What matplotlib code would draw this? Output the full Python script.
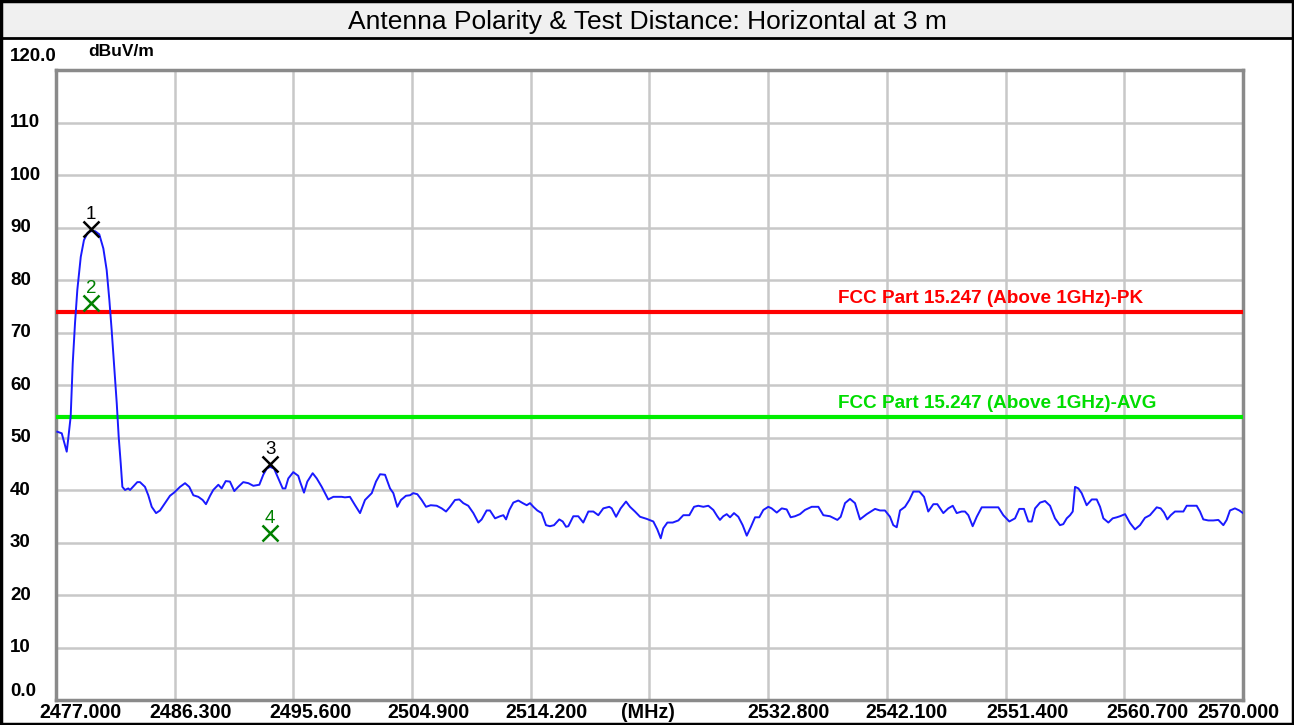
import matplotlib
matplotlib.use("Agg")
import matplotlib.pyplot as plt
from matplotlib.patches import Rectangle
from matplotlib.lines import Line2D
import matplotlib.transforms as mtransforms

# ---------------- data ----------------
title = "Antenna Polarity & Test Distance: Horizontal at 3 m"
y_unit = "dBuV/m"
x_ticks = [2477.0, 2486.3, 2495.6, 2504.9, 2514.2, 2523.5, 2532.8, 2542.1, 2551.4, 2560.7, 2570.0]
x_tick_labels = ["2477.000", "2486.300", "2495.600", "2504.900", "2514.200", "(MHz)",
                 "2532.800", "2542.100", "2551.400", "2560.700", "2570.000"]
y_ticks = [0, 10, 20, 30, 40, 50, 60, 70, 80, 90, 100, 110, 120]
y_tick_labels = ["0.0", "10", "20", "30", "40", "50", "60", "70", "80", "90", "100", "110", "120.0"]

limit_pk = 74.0
limit_avg = 54.0
limit_pk_label = "FCC Part 15.247 (Above 1GHz)-PK"
limit_avg_label = "FCC Part 15.247 (Above 1GHz)-AVG"

trace_freq = [
    2477.10, 2477.45, 2477.84, 2477.96, 2478.15, 2478.31, 2478.49, 2478.67, 2478.94, 2479.19,
    2479.48, 2479.72, 2480.06, 2480.39, 2480.71, 2480.97, 2481.18, 2481.36, 2481.54, 2481.76,
    2481.91, 2482.07, 2482.20, 2482.41, 2482.66, 2482.80, 2483.37, 2483.58, 2483.97, 2484.23,
    2484.50, 2484.84, 2485.15, 2485.54, 2485.93, 2486.25, 2486.72, 2487.11, 2487.44, 2487.76,
    2488.15, 2488.49, 2488.75, 2489.07, 2489.32, 2489.72, 2489.98, 2490.30, 2490.63, 2490.97,
    2491.28, 2491.67, 2492.07, 2492.46, 2492.93, 2493.24, 2493.51, 2493.77, 2494.08, 2494.42,
    2494.76, 2494.97, 2495.20, 2495.59, 2495.98, 2496.12, 2496.43, 2496.69, 2497.11, 2497.43,
    2497.82, 2498.33, 2498.73, 2499.38, 2499.64, 2500.03, 2500.43, 2500.82, 2501.21, 2501.74,
    2502.07, 2502.39, 2502.78, 2503.17, 2503.43, 2503.74, 2504.03, 2504.42, 2504.74, 2504.99,
    2505.31, 2505.65, 2505.99, 2506.36, 2506.83, 2507.22, 2507.56, 2507.87, 2508.26, 2508.60,
    2508.91, 2509.30, 2509.70, 2510.09, 2510.35, 2510.74, 2511.00, 2511.40, 2511.79, 2512.05,
    2512.26, 2512.52, 2512.83, 2513.22, 2513.57, 2513.88, 2514.14, 2514.40, 2514.71, 2515.05,
    2515.39, 2515.70, 2516.02, 2516.43, 2516.70, 2516.96, 2517.14, 2517.53, 2517.92, 2518.31,
    2518.71, 2519.10, 2519.49, 2519.88, 2520.35, 2520.54, 2520.88, 2521.24, 2521.66, 2521.97,
    2522.36, 2522.76, 2523.28, 2523.80, 2524.11, 2524.38, 2524.58, 2524.90, 2525.32, 2525.76,
    2526.15, 2526.62, 2526.99, 2527.32, 2527.72, 2528.11, 2528.50, 2528.81, 2529.02, 2529.28,
    2529.55, 2529.81, 2530.12, 2530.46, 2530.80, 2531.12, 2531.43, 2531.77, 2532.10, 2532.42,
    2532.81, 2533.07, 2533.47, 2533.86, 2534.25, 2534.56, 2534.90, 2535.29, 2535.68, 2536.21,
    2536.73, 2537.12, 2537.64, 2538.22, 2538.48, 2538.82, 2539.21, 2539.60, 2539.99, 2540.52,
    2541.17, 2541.56, 2541.95, 2542.34, 2542.60, 2542.87, 2543.13, 2543.52, 2543.86, 2544.17,
    2544.64, 2545.01, 2545.34, 2545.74, 2546.05, 2546.52, 2546.91, 2547.26, 2547.57, 2547.96,
    2548.22, 2548.48, 2548.82, 2549.14, 2549.53, 2550.05, 2550.83, 2551.22, 2551.69, 2552.14,
    2552.47, 2552.84, 2553.18, 2553.45, 2553.71, 2554.10, 2554.49, 2554.88, 2555.27, 2555.66,
    2555.92, 2556.19, 2556.45, 2556.66, 2556.84, 2557.10, 2557.36, 2557.75, 2558.15, 2558.54,
    2558.80, 2559.06, 2559.45, 2559.79, 2560.11, 2560.36, 2560.76, 2561.15, 2561.54, 2561.93,
    2562.32, 2562.71, 2563.24, 2563.55, 2563.81, 2564.07, 2564.34, 2564.67, 2565.33, 2565.59,
    2566.37, 2566.63, 2566.89, 2567.28, 2567.67, 2568.07, 2568.46, 2568.72, 2568.98, 2569.37,
    2569.71, 2570.00,
]
trace_level = [
    51.1, 50.8, 47.3, 49.8, 54.0, 64.1, 71.8, 78.1, 84.4, 87.6,
    89.0, 89.3, 89.3, 88.7, 86.0, 81.9, 76.2, 70.5, 64.1, 56.5,
    50.2, 45.1, 40.6, 40.0, 40.3, 40.0, 41.5, 41.5, 40.6, 39.0,
    36.8, 35.6, 36.1, 37.5, 38.9, 39.5, 40.6, 41.3, 40.6, 39.0,
    38.7, 38.1, 37.3, 38.9, 40.0, 41.0, 40.3, 41.7, 41.6, 39.8,
    40.6, 41.5, 41.3, 40.8, 41.0, 42.9, 44.1, 44.4, 44.1, 42.2,
    40.3, 40.3, 42.2, 43.4, 42.7, 41.6, 39.5, 41.6, 43.2, 42.2,
    40.6, 38.2, 38.7, 38.7, 38.6, 38.7, 37.1, 35.6, 38.1, 39.4,
    41.6, 43.0, 42.9, 40.3, 39.4, 36.8, 38.1, 38.9, 39.0, 39.4,
    39.2, 38.1, 36.8, 37.1, 37.0, 36.5, 35.9, 36.8, 38.1, 38.2,
    37.5, 37.0, 35.6, 33.8, 34.4, 36.1, 36.1, 34.6, 35.0, 35.2,
    34.4, 36.2, 37.6, 38.0, 37.5, 37.1, 37.5, 36.8, 36.1, 35.6,
    33.3, 33.1, 33.3, 34.4, 34.0, 33.0, 33.1, 35.0, 35.0, 33.8,
    35.9, 35.9, 35.2, 36.5, 36.8, 36.5, 34.9, 36.5, 37.8, 36.8,
    35.9, 34.9, 34.5, 34.0, 32.5, 30.8, 32.7, 33.8, 33.8, 34.2,
    35.2, 35.2, 36.8, 37.0, 36.8, 37.0, 36.2, 35.0, 34.3, 35.0,
    35.4, 34.8, 35.6, 34.9, 33.3, 31.3, 32.9, 34.8, 34.8, 36.2,
    36.8, 36.5, 35.7, 36.5, 36.3, 34.8, 35.0, 35.4, 36.2, 36.8,
    36.8, 35.2, 35.0, 34.3, 34.9, 37.5, 38.3, 37.5, 34.4, 35.4,
    36.4, 36.1, 36.1, 34.9, 33.3, 32.9, 36.1, 36.8, 38.1, 39.7,
    39.7, 38.7, 35.9, 37.3, 37.3, 35.6, 36.5, 37.0, 35.6, 35.9,
    35.9, 35.2, 33.1, 34.9, 36.7, 36.7, 36.7, 35.2, 34.0, 34.6,
    36.4, 36.4, 34.0, 34.0, 36.5, 37.6, 37.9, 37.0, 34.6, 33.3,
    33.5, 34.6, 35.2, 35.9, 40.6, 40.3, 39.4, 37.1, 38.2, 38.2,
    36.8, 34.6, 33.8, 34.6, 34.8, 35.0, 35.4, 33.7, 32.5, 33.3,
    34.7, 35.2, 36.7, 36.5, 35.7, 34.4, 35.2, 35.9, 35.9, 37.0,
    37.0, 35.9, 34.4, 34.2, 34.2, 34.3, 33.3, 34.3, 36.1, 36.5,
    36.1, 35.6,
]

marker_ids = ["1", "2", "3", "4"]
marker_freq = [2479.75, 2479.75, 2493.77, 2493.77]
marker_level = [89.8, 75.7, 45.0, 31.9]
marker_colors = ["black", "#008000", "black", "#008000"]

# ---------------- figure ----------------
W, H = 1294, 725
fig = plt.figure(figsize=(W / 100, H / 100), dpi=100, facecolor="white")
FONT = "Liberation Sans"

# title bar
title_h = 38
fig.patches.append(Rectangle((0, 1 - title_h / H), 1, title_h / H, transform=fig.transFigure,
                             facecolor="#f0f0f0", edgecolor="none", zorder=0))
fig.lines.append(Line2D([0, 1], [1 - title_h / H] * 2, transform=fig.transFigure,
                        color="black", lw=2))
fig.patches.append(Rectangle((0.0008, 0.001), 0.9984, 0.998, transform=fig.transFigure,
                             facecolor="none", edgecolor="black", lw=2.5, zorder=10))
fig.text(0.5, 1 - 22.5 / H, title, ha="center", va="center", fontsize=19,
         family=FONT, color="black")

# axes
left, right, top, bottom = 56, 1243, 70, 700
ax = fig.add_axes([left / W, 1 - bottom / H, (right - left) / W, (bottom - top) / H])
ax.set_xlim(x_ticks[0], x_ticks[-1])
ax.set_ylim(0, 120)
ax.set_facecolor("white")

ax.set_xticks(x_ticks)
ax.set_xticklabels([])
ax.set_yticks(y_ticks)
ax.set_yticklabels([])
ax.tick_params(axis="both", length=0, pad=2)
ax.grid(True, color="#c8c8c8", lw=1.8)
ax.set_axisbelow(True)
for s in ax.spines.values():
    s.set_color("#8a8a8a")
    s.set_linewidth(2.5)

# x labels (shifted as in the instrument software)
x_label_shift_px = [24, 16, 17, 16, 16, -2, 20, 20, 22, 23, -5]
for v, lab, dx in zip(x_ticks, x_tick_labels, x_label_shift_px):
    off = mtransforms.ScaledTranslation(dx / 100, 0, fig.dpi_scale_trans)
    ax.text(v, -2.3, lab, transform=ax.transData + off, ha="center", va="center",
            fontsize=14.2, fontweight="bold", family=FONT, clip_on=False)

# y labels, left aligned near figure edge
tr = mtransforms.blended_transform_factory(fig.transFigure, ax.transData)
for v, lab in zip(y_ticks, y_tick_labels):
    yy = v
    if v == 120:
        yy = 122.5
    elif v == 0:
        yy = 1.7
    ax.text(10 / W, yy, lab, transform=tr, ha="left", va="center", fontsize=13.5,
            fontweight="bold", family=FONT, clip_on=False)
fig.text(88 / W, 1 - 52 / H, y_unit, ha="left", va="center", fontsize=12.5,
         fontweight="bold", family=FONT)

# limit lines
ax.axhline(limit_pk, color="#ff0000", lw=3, zorder=3)
ax.axhline(limit_avg, color="#00ee00", lw=3, zorder=3)
ax.text(2538.27, limit_pk + 0.9, limit_pk_label, color="#ff0000", fontsize=13.6,
        fontweight="bold", family=FONT, ha="left", va="bottom")
ax.text(2538.27, limit_avg + 0.9, limit_avg_label, color="#00dd00", fontsize=13.6,
        fontweight="bold", family=FONT, ha="left", va="bottom")

# trace
ax.plot(trace_freq, trace_level, color="#1a1aff", lw=1.4, zorder=4)

# markers
for mid, f, v, c in zip(marker_ids, marker_freq, marker_level, marker_colors):
    ax.plot([f], [v], marker="x", color=c, ms=11, mew=1.8, zorder=5, linestyle="none")
    ax.annotate(mid, (f, v), xytext=(0, 4), textcoords="offset points", ha="center",
                va="bottom", fontsize=13.5, color=c, family=FONT)

fig.savefig("out.png", dpi=100, facecolor="white")
